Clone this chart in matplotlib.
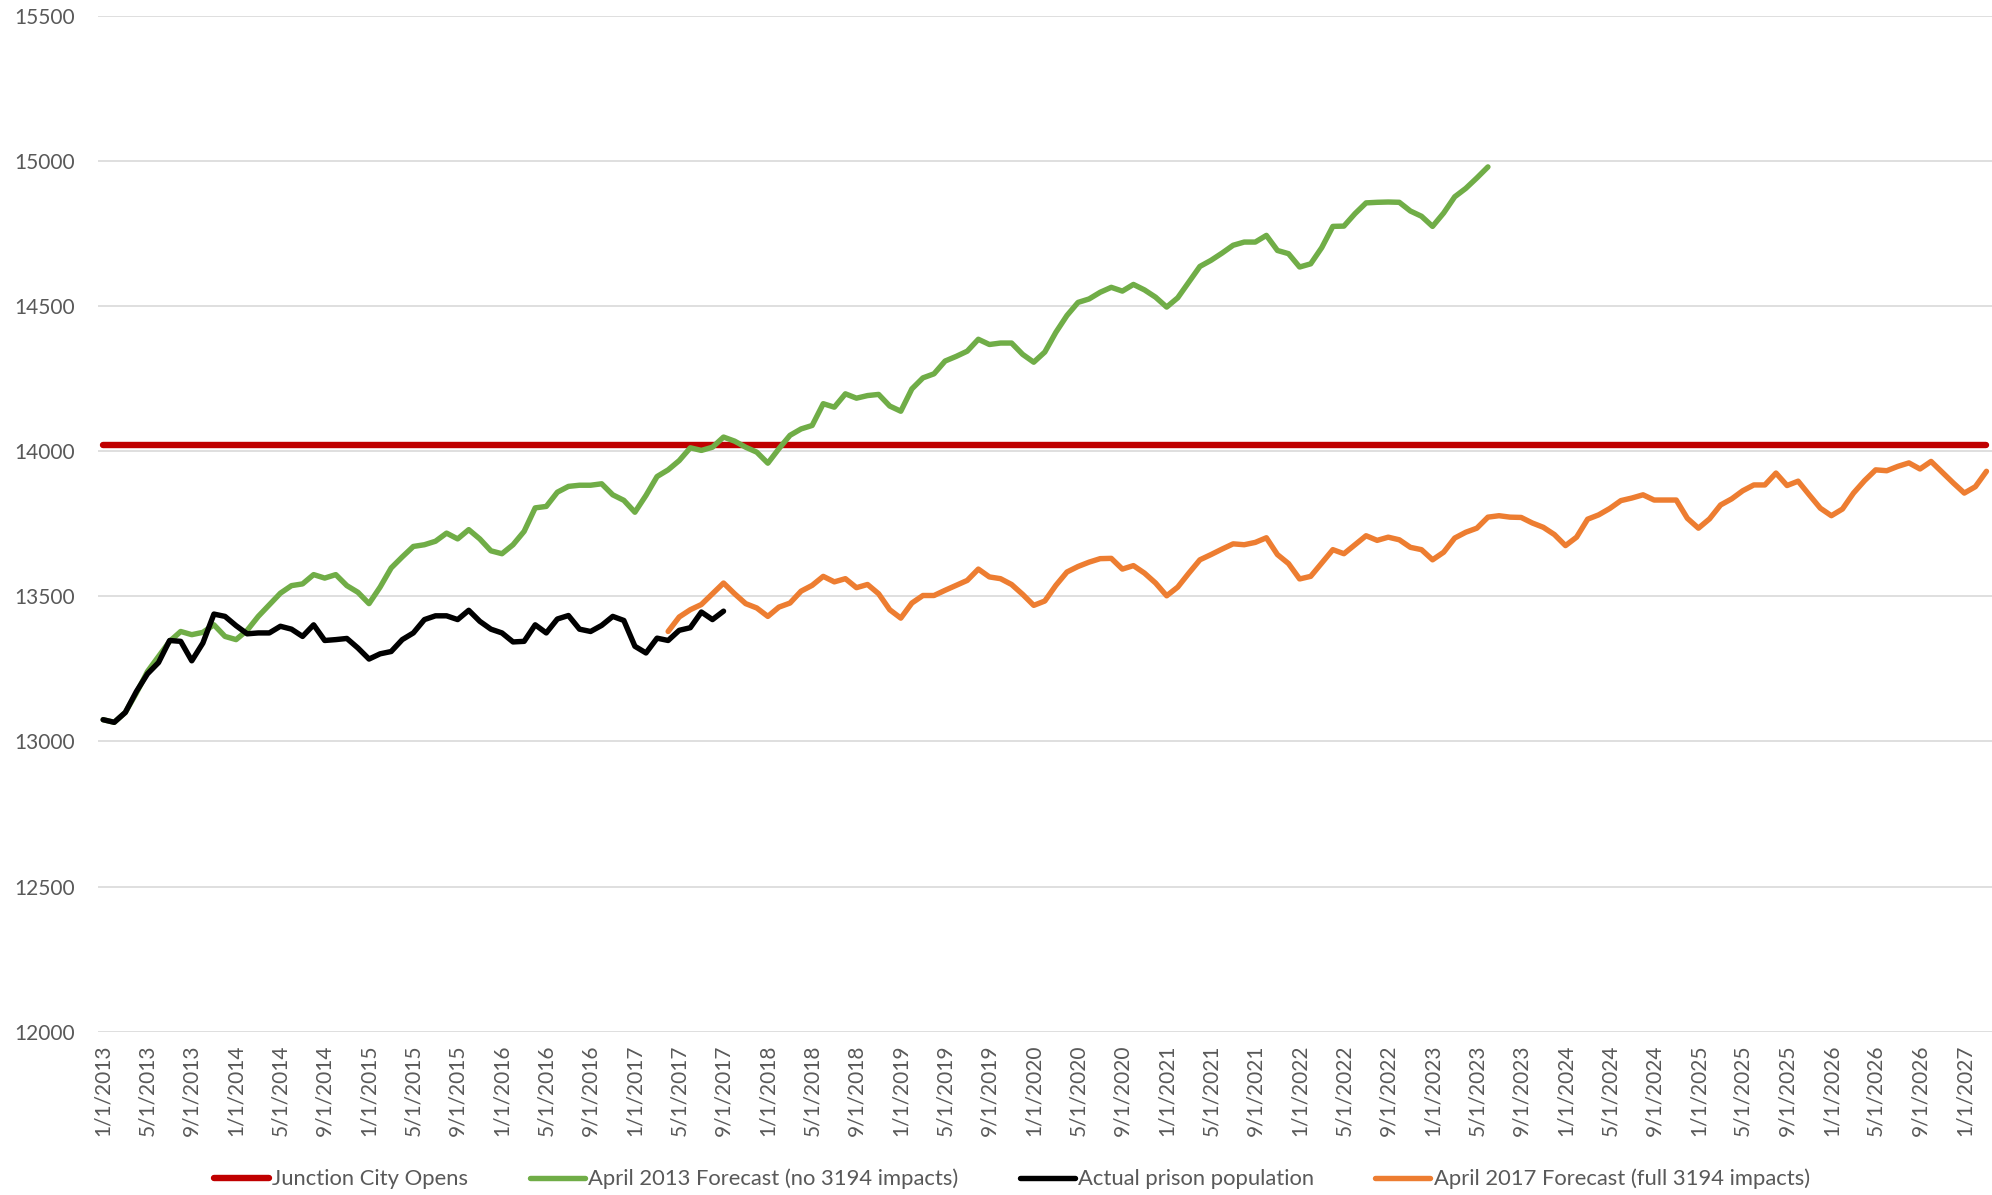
import matplotlib
matplotlib.use("Agg")
import matplotlib.pyplot as plt
import pandas as pd

# monthly categories 1/1/2013 .. 3/1/2027
months = pd.date_range("2013-01-01", "2027-03-01", freq="MS")
categories = [f"{d.month}/1/{d.year}" for d in months]

junction_city = [14020] * len(categories)

# actual population, 1/2013 .. 9/2017
actual = [13075, 13066, 13100, 13172, 13233, 13272, 13348, 13345, 13278, 13339,
          13439, 13431, 13399, 13371, 13374, 13374, 13397, 13387, 13362, 13402,
          13348, 13351, 13355, 13322, 13284, 13302, 13310, 13351, 13374, 13420,
          13433, 13433, 13420, 13452, 13414, 13387, 13374, 13343, 13345, 13402,
          13374, 13422, 13434, 13387, 13379, 13400, 13431, 13417, 13328, 13305,
          13356, 13348, 13383, 13392, 13446, 13420, 13449]

# April 2013 forecast, 1/2013 .. 6/2023
forecast_2013 = [13075, 13066, 13100, 13167, 13241, 13293, 13345, 13379, 13368, 13376,
                 13402, 13362, 13351, 13383, 13431, 13471, 13511, 13537, 13543, 13575,
                 13563, 13575, 13537, 13514, 13475, 13532, 13598, 13636, 13672, 13678,
                 13690, 13718, 13698, 13730, 13698, 13657, 13647, 13678, 13724, 13805,
                 13810, 13859, 13879, 13883, 13883, 13888, 13850, 13831, 13790, 13848,
                 13913, 13936, 13968, 14012, 14003, 14014, 14049, 14035, 14014, 13997,
                 13959, 14009, 14055, 14077, 14089, 14164, 14152, 14198, 14183, 14192,
                 14196, 14156, 14138, 14215, 14253, 14267, 14311, 14327, 14345, 14386,
                 14368, 14373, 14373, 14334, 14307, 14342, 14410, 14468, 14513, 14525,
                 14548, 14565, 14552, 14575, 14556, 14531, 14497, 14529, 14583, 14637,
                 14658, 14683, 14710, 14721, 14721, 14744, 14692, 14681, 14635, 14646,
                 14702, 14775, 14776, 14819, 14856, 14858, 14859, 14858, 14828, 14810,
                 14775, 14821, 14877, 14906, 14942, 14980]

# April 2017 forecast, 4/2017 .. 3/2027
forecast_2017_start = 51
forecast_2017 = [13379, 13429, 13454, 13472, 13509, 13546, 13509, 13475, 13460, 13431,
                 13463, 13477, 13518, 13538, 13569, 13550, 13561, 13530, 13541, 13509,
                 13454, 13425, 13477, 13503, 13503, 13521, 13538, 13555, 13594, 13567,
                 13561, 13541, 13507, 13469, 13484, 13538, 13584, 13603, 13618, 13630,
                 13631, 13594, 13606, 13580, 13546, 13502, 13532, 13580, 13626, 13644,
                 13663, 13681, 13678, 13686, 13702, 13644, 13613, 13560, 13569, 13615,
                 13661, 13647, 13678, 13709, 13693, 13704, 13695, 13669, 13661, 13626,
                 13652, 13701, 13721, 13735, 13773, 13778, 13773, 13772, 13753, 13738,
                 13713, 13675, 13704, 13766, 13781, 13803, 13830, 13839, 13850, 13832,
                 13832, 13832, 13769, 13735, 13767, 13815, 13836, 13864, 13884, 13884,
                 13925, 13882, 13897, 13850, 13804, 13778, 13801, 13856, 13899, 13936,
                 13933, 13948, 13960, 13939, 13965, 13928, 13891, 13856, 13878, 13931]

plt.rcParams['font.family'] = ['Lato', 'DejaVu Sans']
text_color = '#595959'

fig = plt.figure(figsize=(19.92, 11.95), dpi=100)
ax = fig.add_axes([0.049, 0.1367, 0.951, 0.8499])

line_kw = dict(solid_joinstyle='round', solid_capstyle='round')
x_all = list(range(len(categories)))
ax.plot(x_all, junction_city, color='#C00000', lw=4.6, zorder=2,
        label='Junction City Opens', **line_kw)
ax.plot(range(len(forecast_2013)), forecast_2013, color='#70AD47', lw=3.9, zorder=3,
        label='April 2013 Forecast (no 3194 impacts)', **line_kw)
ax.plot(range(len(actual)), actual, color='black', lw=3.9, zorder=5,
        label='Actual prison population', **line_kw)
ax.plot(range(forecast_2017_start, forecast_2017_start + len(forecast_2017)), forecast_2017,
        color='#ED7D31', lw=3.9, zorder=4,
        label='April 2017 Forecast (full 3194 impacts)', **line_kw)

ax.set_xlim(-0.5, len(categories) - 0.5)
ax.set_ylim(12000, 15500)
ax.set_yticks(range(12000, 15501, 500))
ax.set_xticks(x_all[::4])
ax.set_xticklabels(categories[::4], rotation=90)
ax.grid(axis='y', color='#D9D9D9', lw=1.2, zorder=0)
ax.set_axisbelow(True)
for s in ax.spines.values():
    s.set_visible(False)
ax.tick_params(axis='both', length=0, labelsize=15, labelcolor=text_color)
ax.tick_params(axis='x', pad=9)
ax.tick_params(axis='y', pad=16)

fig.legend(loc='center', bbox_to_anchor=(0.508, 0.0134), ncol=4, frameon=False,
           fontsize=15.8, labelcolor=text_color, handlelength=2.5,
           handletextpad=0.15, columnspacing=2.8)

fig.savefig('out.png', dpi=100)
